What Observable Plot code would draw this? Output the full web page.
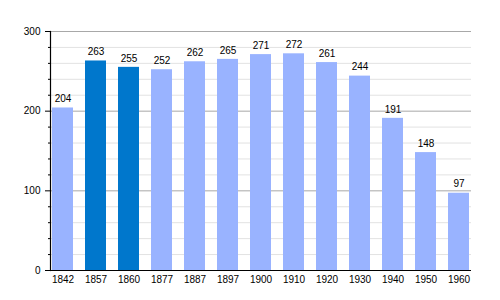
<!DOCTYPE html>
<html>
<head>
<meta charset="utf-8">
<script src="https://cdn.jsdelivr.net/npm/d3@7"></script>
<script src="https://cdn.jsdelivr.net/npm/@observablehq/plot@0.6"></script>
<style>
  html, body { margin: 0; padding: 0; background: #fff; }
</style>
</head>
<body>
<div id="chart"></div>
<script>
const years = ["1842","1857","1860","1877","1887","1897","1900","1910","1920","1930","1940","1950","1960"];
const population = [204, 263, 255, 252, 262, 265, 271, 272, 261, 244, 191, 148, 97];
const highlighted = ["1857", "1860"];
const majorTicks = [0, 100, 200, 300];
const minorTicks = [20, 40, 60, 80, 120, 140, 160, 180, 220, 240, 260, 280];

const data = years.map((y, i) => ({year: y, pop: population[i], hi: highlighted.includes(y)}));

const font = "'Liberation Sans', Arial, sans-serif";

const chart = Plot.plot({
  width: 500,
  height: 300,
  marginLeft: 50,
  marginRight: 29,
  marginTop: 31,
  marginBottom: 30,
  style: {fontFamily: font, fontSize: "10px", color: "#000", background: "#fff"},
  x: {type: "band", domain: years, paddingInner: 0.36, paddingOuter: 0, label: null},
  y: {domain: [0, 300], label: null},
  marks: [
    Plot.ruleY(minorTicks, {stroke: "#e2e2e2", strokeWidth: 1}),
    Plot.ruleY(majorTicks.filter(d => d > 0), {stroke: "#a8a8a8", strokeWidth: 1}),
    Plot.barY(data, {x: "year", y: "pop", fill: d => d.hi ? "#0077cc" : "#99b3ff"}),
    Plot.text(data, {x: "year", y: "pop", text: d => String(d.pop), dy: -9, fill: "#000", fontSize: 10}),
    Plot.axisY({ticks: minorTicks, tickSize: 2, tickFormat: () => "", stroke: "#000"}),
    Plot.axisY({ticks: majorTicks, tickSize: 5, tickPadding: 5, fontSize: 10}),
    Plot.axisX({tickSize: 0, tickPadding: 5, fontSize: 10}),
    Plot.ruleY([0], {stroke: "#000", strokeWidth: 1.2}),
    Plot.frame({anchor: "left", stroke: "#000", strokeWidth: 1.2})
  ]
});
document.getElementById("chart").appendChild(chart);
</script>
</body>
</html>
